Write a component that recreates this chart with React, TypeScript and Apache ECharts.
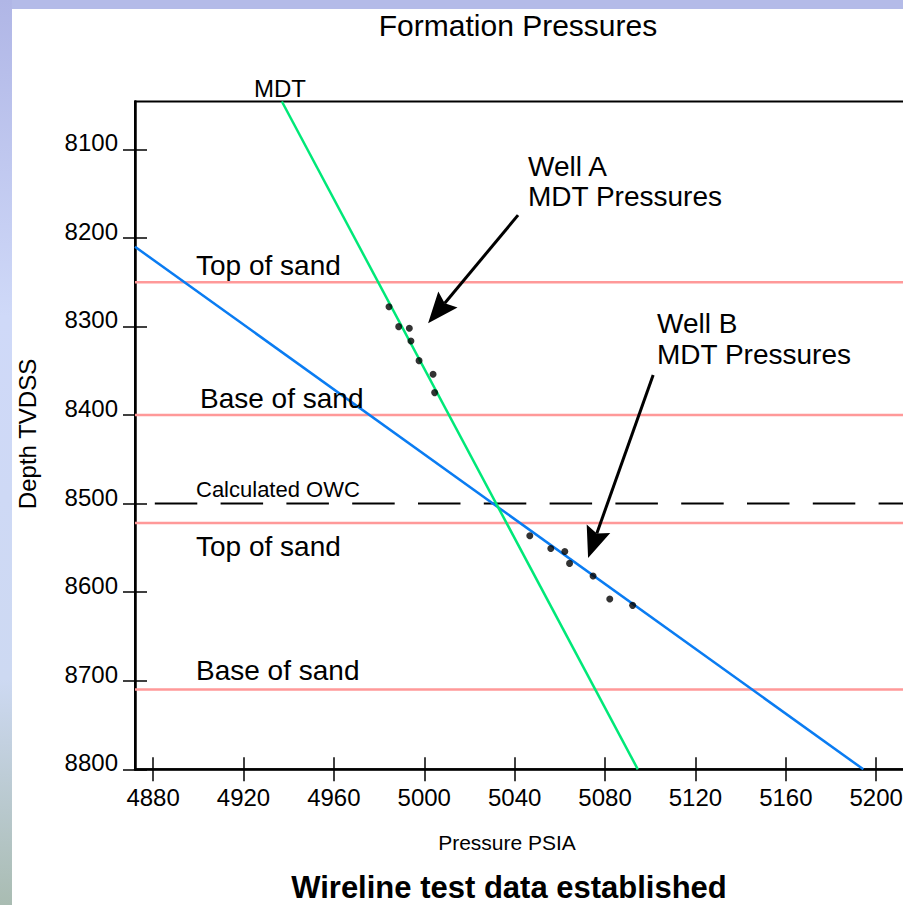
import React, { useEffect, useRef } from 'react';
import * as echarts from 'echarts';

const FONT = '"Liberation Sans", Arial, Helvetica, sans-serif';

// Axis ranges and tick values
const xRange = [4872, 5240];
const yRange = [8046, 8800];
const xTicks = [4880, 4920, 4960, 5000, 5040, 5080, 5120, 5160, 5200];
const yTicks = [8100, 8200, 8300, 8400, 8500, 8600, 8700, 8800];

// Gradient lines [pressure, depth]
const mdtGradient = [[4937, 8046], [5094.5, 8800]];
const wellBGradient = [[4872, 8210], [5194.3, 8800]];

// MDT pressure points [pressure, depth]
const wellA = [
  [4984.4, 8277.7], [4988.7, 8300.2], [4993.4, 8302], [4994.1, 8316.4],
  [4997.7, 8338.6], [5003.9, 8353.9], [5004.6, 8374.7],
];
const wellB = [
  [5046.7, 8536.3], [5056, 8550.6], [5062.2, 8554], [5064.3, 8567.5],
  [5074.7, 8581.7], [5082.1, 8607.7], [5092.2, 8614.9],
];

// Sand tops / bases and OWC depth
const sandLevels = [8250, 8400, 8522, 8710];
const owcDepth = 8500;

// Annotation arrows [fromX, fromY, toX, toY]
const arrows = [
  [5041.5, 8174.3, 5001.7, 8296.4],
  [5101.3, 8354.7, 5072.5, 8561.4],
];

const tickStyle = { color: '#000', width: 1.5 };

function textEl(text: string, x: number, y: number, size: number, opts: any = {}) {
  return {
    type: 'text',
    x,
    y,
    rotation: opts.rotation || 0,
    style: {
      text,
      fill: '#000',
      font: `${opts.bold ? 'bold ' : ''}${size}px ${FONT}`,
      align: opts.align || 'left',
      verticalAlign: 'middle',
    },
    z: 100,
  };
}

export default function App() {
  const ref = useRef<HTMLDivElement>(null);

  useEffect(() => {
    if (!ref.current) return;
    const chart = echarts.init(ref.current, undefined, { renderer: 'svg' });

    const hLine = (y: number) => [[xRange[0], y], [xRange[1], y]];

    const series: any[] = [];
    sandLevels.forEach((lv) => {
      series.push({
        type: 'line',
        data: hLine(lv),
        symbol: 'none',
        silent: true,
        lineStyle: { color: '#ff9999', width: 2.5 },
        z: 2,
      });
    });
    series.push({
      type: 'line',
      data: hLine(owcDepth),
      symbol: 'none',
      silent: true,
      lineStyle: { color: '#000', width: 2, type: [42.5, 23.3], dashOffset: 45.8 },
      z: 3,
    });
    series.push({
      type: 'line',
      data: wellBGradient,
      symbol: 'none',
      silent: true,
      lineStyle: { color: '#0a7cf2', width: 2.5 },
      z: 4,
    });
    series.push({
      type: 'line',
      data: mdtGradient,
      symbol: 'none',
      silent: true,
      lineStyle: { color: '#00e878', width: 2.5 },
      z: 4,
    });
    series.push({
      type: 'scatter',
      data: wellA,
      symbol: 'circle',
      symbolSize: 7,
      itemStyle: { color: '#000' },
      z: 6,
    });
    series.push({
      type: 'scatter',
      data: wellB,
      symbol: 'circle',
      symbolSize: 7,
      itemStyle: { color: '#000' },
      z: 6,
    });
    series.push({
      type: 'custom',
      data: arrows,
      encode: { x: [0, 2], y: [1, 3] },
      clip: false,
      z: 8,
      renderItem: (params: any, api: any) => {
        const p0 = api.coord([api.value(0), api.value(1)]);
        const p1 = api.coord([api.value(2), api.value(3)]);
        const dx = p1[0] - p0[0];
        const dy = p1[1] - p0[1];
        const len = Math.sqrt(dx * dx + dy * dy);
        const ux = dx / len;
        const uy = dy / len;
        const nx = -uy;
        const ny = ux;
        const headLen = 31;
        const halfW = 12.5;
        const notch = 5;
        const bx = p1[0] - ux * headLen;
        const by = p1[1] - uy * headLen;
        const mx = p1[0] - ux * (headLen - notch);
        const my = p1[1] - uy * (headLen - notch);
        return {
          type: 'group',
          children: [
            {
              type: 'line',
              shape: { x1: p0[0], y1: p0[1], x2: mx, y2: my },
              style: { stroke: '#000', lineWidth: 3 },
            },
            {
              type: 'polygon',
              shape: {
                points: [
                  [p1[0], p1[1]],
                  [bx + nx * halfW, by + ny * halfW],
                  [mx, my],
                  [bx - nx * halfW, by - ny * halfW],
                ],
              },
              style: { fill: '#000' },
            },
          ],
        };
      },
    });

    const plain = (v: number) => String(v);

    const option: any = {
      animation: false,
      backgroundColor: '#ffffff',
      textStyle: { fontFamily: FONT },
      grid: {
        left: 135,
        top: 101.5,
        width: 831.6,
        height: 667.8,
        show: true,
        borderColor: '#000',
        borderWidth: 2,
        backgroundColor: 'transparent',
        containLabel: false,
        outerBoundsMode: 'none',
      },
      xAxis: [
        {
          type: 'value',
          min: xRange[0],
          max: xRange[1],
          position: 'bottom',
          axisLine: { show: true, onZero: false, lineStyle: { color: '#000', width: 2.5 } },
          axisTick: { show: true, customValues: xTicks, length: 12, lineStyle: tickStyle },
          axisLabel: {
            customValues: xTicks,
            formatter: plain,
            fontSize: 24,
            color: '#000',
            margin: 16,
            fontFamily: FONT,
          },
          splitLine: { show: false },
        },
        {
          type: 'value',
          min: xRange[0],
          max: xRange[1],
          position: 'bottom',
          axisLine: { show: false },
          axisTick: { show: true, inside: true, customValues: xTicks, length: 12, lineStyle: tickStyle },
          axisLabel: { show: false },
          splitLine: { show: false },
        },
      ],
      yAxis: [
        {
          type: 'value',
          min: yRange[0],
          max: yRange[1],
          inverse: true,
          position: 'left',
          axisLine: { show: true, onZero: false, lineStyle: { color: '#000', width: 2.5 } },
          axisTick: { show: true, customValues: yTicks, length: 12, lineStyle: tickStyle },
          axisLabel: {
            customValues: yTicks,
            formatter: plain,
            fontSize: 24,
            color: '#000',
            margin: 17,
            verticalAlign: 'bottom',
            lineHeight: 13,
            fontFamily: FONT,
          },
          splitLine: { show: false },
        },
        {
          type: 'value',
          min: yRange[0],
          max: yRange[1],
          inverse: true,
          position: 'left',
          axisLine: { show: false },
          axisTick: { show: true, inside: true, customValues: yTicks, length: 12, lineStyle: tickStyle },
          axisLabel: { show: false },
          splitLine: { show: false },
        },
      ],
      graphic: [
        {
          type: 'rect',
          shape: { x: 0, y: 0, width: 903, height: 9 },
          style: { fill: '#b4bbe8' },
          z: 50,
        },
        {
          type: 'rect',
          shape: { x: 0, y: 0, width: 12, height: 905 },
          style: {
            fill: new echarts.graphic.LinearGradient(0, 0, 0, 1, [
              { offset: 0, color: '#b0b6e6' },
              { offset: 0.35, color: '#cfd9f8' },
              { offset: 0.75, color: '#cdd9f2' },
              { offset: 1, color: '#a9bcb2' },
            ]),
          },
          z: 51,
        },
        textEl('Formation Pressures', 518, 25, 30, { align: 'center' }),
        textEl('MDT', 280, 88, 24, { align: 'center' }),
        textEl('Well A', 528, 166, 28),
        textEl('MDT Pressures', 528, 196, 28),
        textEl('Well B', 657, 323, 28),
        textEl('MDT Pressures', 657, 354, 28),
        textEl('Top of sand', 196, 265, 28),
        textEl('Base of sand', 200, 398, 28),
        textEl('Calculated OWC', 196, 489, 22),
        textEl('Top of sand', 196, 546, 28),
        textEl('Base of sand', 196, 670, 28),
        textEl('Pressure PSIA', 507, 842, 21, { align: 'center' }),
        textEl('Depth TVDSS', 27, 434, 24, { align: 'center', rotation: Math.PI / 2 }),
        textEl('Wireline test data established', 509, 887, 31, { align: 'center', bold: true }),
      ],
      series,
    };

    chart.setOption(option);
    return () => {
      chart.dispose();
    };
  }, []);

  return (
    <div
      ref={ref}
      style={{ position: 'fixed', left: 0, top: 0, width: 903, height: 905, overflow: 'hidden' }}
    />
  );
}
